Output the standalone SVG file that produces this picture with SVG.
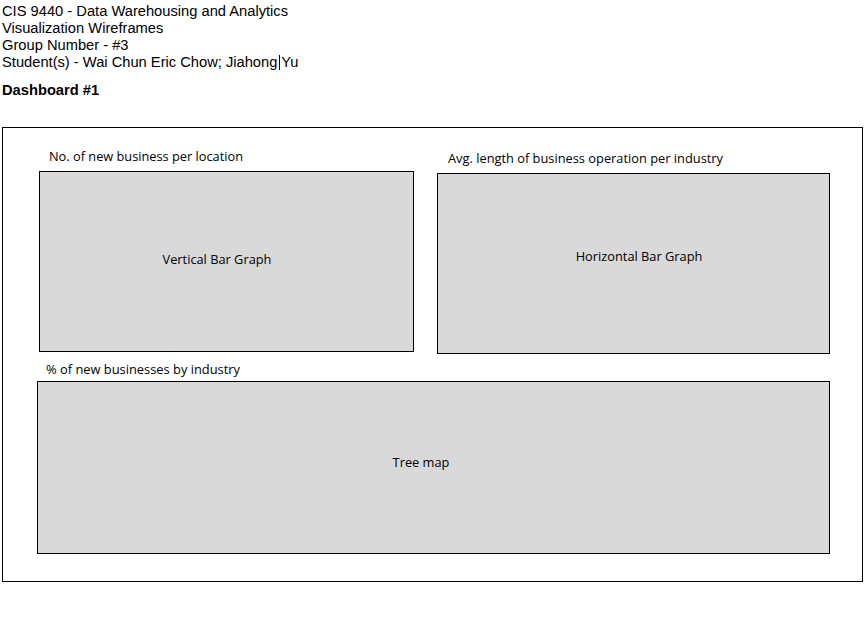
<svg xmlns="http://www.w3.org/2000/svg" width="868" height="627" viewBox="0 0 868 627">
<style>
.hdr{font-family:"Liberation Sans",Arial,sans-serif;font-size:14.7px;fill:#000}
.bold{font-weight:bold}
.lbl{font-family:"Open Sans","Liberation Sans",sans-serif;font-size:12.8px;fill:#000}
.box{fill:#d9d9d9;stroke:#000;stroke-width:1}
</style>
<rect width="868" height="627" fill="#fff"/>
<g id="header">
<text class="hdr" x="2" y="16">CIS 9440 - Data Warehousing and Analytics</text>
<text class="hdr" x="2" y="33">Visualization Wireframes</text>
<text class="hdr" x="2" y="50">Group Number - #3</text>
<text class="hdr" x="2" y="67">Student(s) - Wai Chun Eric Chow; Jiahong Yu</text>
<line x1="279.5" y1="55" x2="279.5" y2="70" stroke="#000" stroke-width="1"/>
<text class="hdr bold" x="2" y="95">Dashboard #1</text>
</g>
<g id="dashboard">
<rect x="2.5" y="127.5" width="860" height="454" fill="#fff" stroke="#000" stroke-width="1"/>
</g>
<g id="vertical-bar">
<text class="lbl" x="49" y="161" textLength="194" lengthAdjust="spacingAndGlyphs">No. of new business per location</text>
<rect class="box" x="39.5" y="171.5" width="374" height="180"/>
<text class="lbl" x="217" y="264" text-anchor="middle">Vertical Bar Graph</text>
</g>
<g id="horizontal-bar">
<text class="lbl" x="448" y="163" textLength="275" lengthAdjust="spacingAndGlyphs">Avg. length of business operation per industry</text>
<rect class="box" x="437.5" y="173.5" width="392" height="180"/>
<text class="lbl" x="639" y="261" text-anchor="middle">Horizontal Bar Graph</text>
</g>
<g id="tree-map">
<text class="lbl" x="46" y="374" textLength="194" lengthAdjust="spacingAndGlyphs">% of new businesses by industry</text>
<rect class="box" x="37.5" y="381.5" width="792" height="172"/>
<text class="lbl" x="421" y="467" text-anchor="middle">Tree map</text>
</g>
<g id="connectors"></g>
</svg>
